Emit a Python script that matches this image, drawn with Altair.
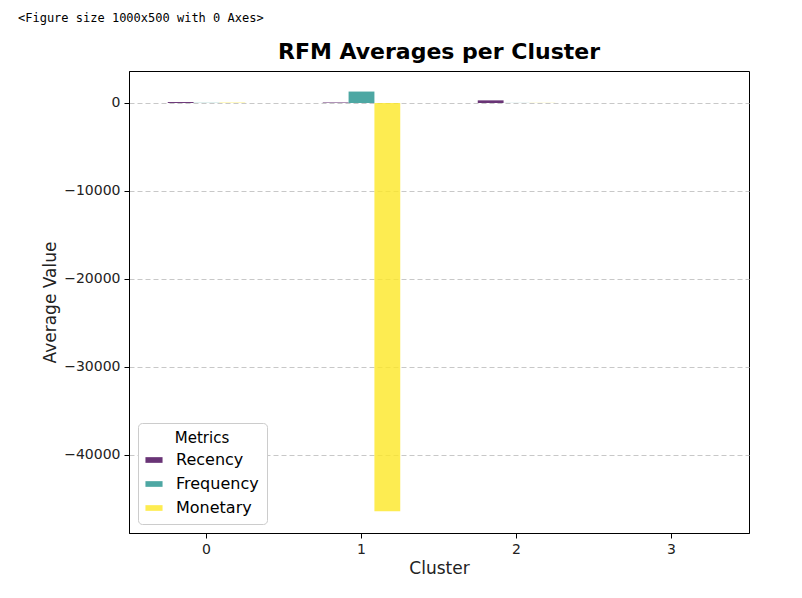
import altair as alt
import pandas as pd

clusters = ["0", "1", "2", "3"]
metrics = ["Recency", "Frequency", "Monetary"]
recency = [110, 60, 300, 0]
frequency = [20, 1300, 10, 0]
monetary = [40, -46400, 15, 0]

rows = []
for i, c in enumerate(clusters):
    rows.append({"Cluster": c, "Metric": "Recency", "Value": recency[i]})
    rows.append({"Cluster": c, "Metric": "Frequency", "Value": frequency[i]})
    rows.append({"Cluster": c, "Metric": "Monetary", "Value": monetary[i]})
df = pd.DataFrame(rows)

font = "DejaVu Sans"

bars = alt.Chart(df).mark_bar(opacity=0.8).encode(
    x=alt.X("Cluster:N", sort=clusters,
            scale=alt.Scale(paddingInner=0.5, paddingOuter=0.25),
            axis=alt.Axis(title="Cluster", labelAngle=0, grid=False)),
    xOffset=alt.XOffset("Metric:N", sort=metrics, scale=alt.Scale(padding=0, paddingInner=0)),
    y=alt.Y("Value:Q", scale=alt.Scale(domain=[-48864, 3636], nice=False, zero=False),
            axis=alt.Axis(title="Average Value", values=[0, -10000, -20000, -30000, -40000],
                          format="d", grid=True, gridDash=[5, 3], gridColor="#c8c8c8")),
    color=alt.Color("Metric:N", sort=metrics,
                    scale=alt.Scale(domain=metrics, range=["#440154", "#21918c", "#fde725"]),
                    legend=alt.Legend(title="Metrics", orient="bottom-left", offset=9,
                                      symbolType="M-1.5,-0.5H1.5V0.5H-1.5Z", symbolSize=130,
                                      symbolOpacity=0.8, symbolStrokeWidth=0,
                                      titleAnchor="middle", titleFontWeight="normal",
                                      titleFontSize=15, labelFontSize=16, rowPadding=8,
                                      labelOffset=14, titlePadding=6,
                                      fillColor="white", strokeColor="#cccccc", padding=8,
                                      cornerRadius=4, titleFont=font, labelFont=font,
                                      titleColor="black", labelColor="black")),
)

note = alt.Chart(pd.DataFrame({"t": ["<Figure size 1000x500 with 0 Axes>"]})).mark_text(
    align="left", baseline="middle", font="DejaVu Sans Mono", fontSize=12, color="black"
).encode(x=alt.value(-111), y=alt.value(-53), text="t:N")

title = alt.Chart(pd.DataFrame({"t": ["RFM Averages per Cluster"]})).mark_text(
    align="center", baseline="middle", font=font, fontSize=22, fontWeight="bold", color="black"
).encode(x=alt.value(310), y=alt.value(-19), text="t:N")

chart = alt.layer(bars, note, title).properties(
    width=620, height=462,
    autosize=alt.AutoSizeParams(type="none"),
    padding={"left": 121, "top": 63, "right": 40, "bottom": 60},
).configure_view(stroke="black", strokeWidth=1).configure_axis(
    labelFont=font, titleFont=font, labelFontSize=14, titleFontSize=17,
    titleFontWeight="normal", labelColor="#222", titleColor="#222",
    domainColor="black", tickColor="black", tickSize=5, labelPadding=4,
)

chart.save("out.html", embed_options={"renderer": "svg", "actions": False})
